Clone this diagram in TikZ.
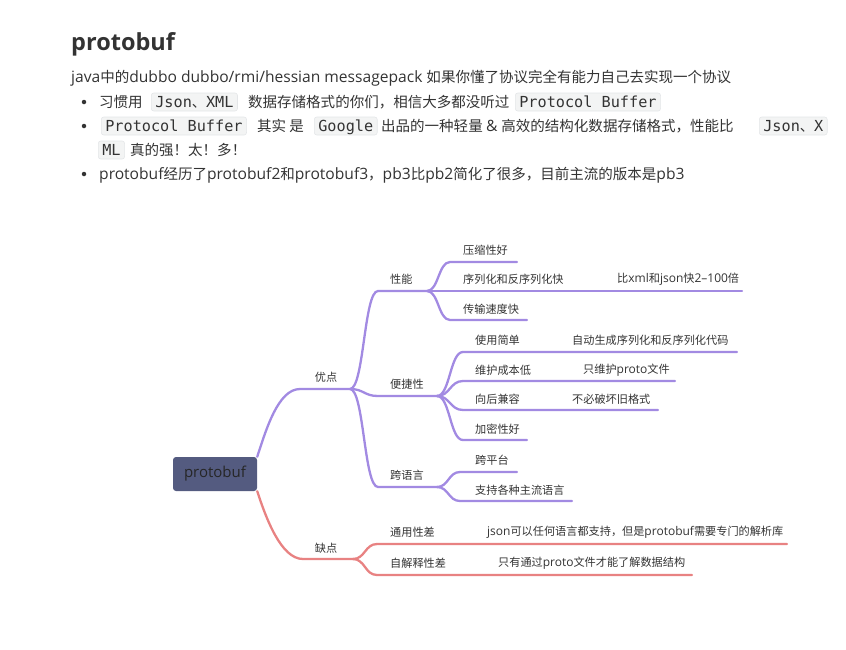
\documentclass[tikz,border=0pt]{standalone}
\usepackage{fontspec}
\setmainfont{Open Sans}
\newfontfamily\codefont{DejaVu Sans Mono}
\newfontfamily\cjk[Scale=0.93]{Noto Sans CJK SC}
\newfontfamily\titlefont{Open Sans}
% switch to the CJK face for Han characters and CJK punctuation
\XeTeXinterchartokenstate=1
\newXeTeXintercharclass\cjkclass
\newcount\cc
\def\markrange#1#2{\cc=#1 \loop \XeTeXcharclass\cc=\cjkclass \ifnum\cc<#2 \advance\cc 1 \repeat}
\markrange{"3000}{"303F}
\markrange{"4E00}{"9FFF}
\markrange{"FF00}{"FFEF}
\XeTeXinterchartoks 0 \cjkclass = {\cjk}
\XeTeXinterchartoks 4095 \cjkclass = {\cjk}
\XeTeXinterchartoks \cjkclass 0 = {\rmfamily}
\XeTeXinterchartoks 4095 0 = {\rmfamily}
\newcommand\nointer{\XeTeXinterchartokenstate=0\relax}
\usetikzlibrary{calc}
\definecolor{ink}{HTML}{333333}
\definecolor{codebg}{HTML}{F3F4F4}
\definecolor{codeline}{HTML}{E4E6E8}
\definecolor{pro}{HTML}{A28AE2}
\definecolor{con}{HTML}{E88282}
\definecolor{rootfill}{HTML}{545B80}
\begin{document}
\begin{tikzpicture}[x=1pt,y=-1pt,
  body/.style={anchor=base west, inner sep=0pt, text=ink, font=\fontsize{15.6}{18}\selectfont},
  code/.style={anchor=base west, inner xsep=4pt, inner ysep=3pt, text height=11pt, text depth=1pt,
    fill=codebg, draw=codeline, line width=0.6pt, rounded corners=2.5pt, text=ink,
    font=\nointer\codefont\fontsize{15.2}{17}\selectfont},
  dot/.style={circle, fill=ink, inner sep=0pt, minimum size=4.5pt},
  lbl/.style={anchor=west, inner sep=0pt, text=ink, font=\fontsize{12}{14}\selectfont},
  sbr/.style={to path={let \p1=(\tikztostart), \p2=(\tikztotarget) in
    .. controls ({0.5*(\x1+\x2)},\y1) and ({0.5*(\x1+\x2)},\y2) .. (\tikztotarget)}},
  wire/.style={line width=2.3pt, line cap=round},
]
\useasboundingbox (0,0) rectangle (846,649);

% ---------- text block ----------
\node[anchor=base west, inner sep=0pt, text=ink,
  font=\nointer\titlefont\bfseries\fontsize{23.5}{28}\selectfont] (title) at (71,50) {protobuf};
\node[body] (intro) at (71,82) {java中的dubbo dubbo/rmi/hessian messagepack 如果你懂了协议完全有能力自己去实现一个协议};

\node[dot] (b1) at (84,102) {};
\node[body] (l1a) at (99,107) {习惯用};
\node[code] (l1b) at (151,107) {Json{\cjk 、}XML};
\node[body] (l1c) at (248,107) {数据存储格式的你们，相信大多都没听过};
\node[code] (l1d) at (515,107) {Protocol Buffer};

\node[dot] (b2) at (84,126) {};
\node[code] (l2a) at (101,131) {Protocol Buffer};
\node[body] (l2b) at (257,131) {其实 是};
\node[code] (l2c) at (314,131) {Google};
\node[body] (l2d) at (381,131) {出品的一种轻量 \& 高效的结构化数据存储格式，性能比};
\node[code] (l2e) at (759,131) {Json{\cjk 、}X};
\node[code] (l3a) at (98,155) {ML};
\node[body] (l3b) at (130,155) {真的强！太！多！};

\node[dot] (b3) at (84,174) {};
\node[body] (l4) at (99,179) {protobuf经历了protobuf2和protobuf3，pb3比pb2简化了很多，目前主流的版本是pb3};

% ---------- mind map ----------
\node[fill=rootfill, rounded corners=3pt, minimum width=84pt, minimum height=34pt, inner sep=0pt,
  text=black!85, font=\fontsize{15}{18}\selectfont] (root) at (215,474) {protobuf};

% branch points
\coordinate (proA) at (300,389);  \coordinate (proB) at (350,389);
\coordinate (conA) at (303,559);  \coordinate (conB) at (353,559);
\coordinate (perfA) at (378,291); \coordinate (perfB) at (427,291);
\coordinate (easeA) at (378,396); \coordinate (easeB) at (437,396);
\coordinate (langA) at (378,487); \coordinate (langB) at (437,487);

% first level
\draw[pro, wire] (root.north east) .. controls (266,430) and (278,389) .. (proA) -- (proB);
\draw[con, wire] (root.south east) .. controls (266,518) and (281,559) .. (conA) -- (conB);
\node[lbl, anchor=center] (pros) at (326,377) {优点};
\node[lbl, anchor=center] (cons) at (326,548) {缺点};

% advantages
\draw[pro, wire] (proB) to[sbr] (perfA) -- (perfB);
\draw[pro, wire] (proB) to[sbr] (easeA) -- (easeB);
\draw[pro, wire] (proB) to[sbr] (langA) -- (langB);
\node[lbl] (perf) at (390,279) {性能};
\node[lbl] (ease) at (390,384) {便捷性};
\node[lbl] (lang) at (390,475) {跨语言};

% performance
\coordinate (p1) at (450,262); \coordinate (p1e) at (517,262);
\coordinate (p2e) at (742,291);
\coordinate (p3) at (450,320); \coordinate (p3e) at (527,320);
\draw[pro, wire] (perfB) to[sbr] (p1) -- (p1e);
\draw[pro, wire] (perfB) -- (p2e);
\draw[pro, wire] (perfB) to[sbr] (p3) -- (p3e);
\node[lbl] (p1t) at (463,250) {压缩性好};
\node[lbl] (p2t) at (463,279) {序列化和反序列化快};
\node[lbl] (p2n) at (617,279) {比xml和json快2–100倍};
\node[lbl] (p3t) at (463,309) {传输速度快};

% convenience
\coordinate (e1) at (463,352); \coordinate (e1e) at (737,352);
\coordinate (e2) at (463,381); \coordinate (e2e) at (675,381);
\coordinate (e3) at (463,410); \coordinate (e3e) at (658,410);
\coordinate (e4) at (463,440); \coordinate (e4e) at (527,440);
\draw[pro, wire] (easeB) to[sbr] (e1) -- (e1e);
\draw[pro, wire] (easeB) to[sbr] (e2) -- (e2e);
\draw[pro, wire] (easeB) to[sbr] (e3) -- (e3e);
\draw[pro, wire] (easeB) to[sbr] (e4) -- (e4e);
\node[lbl] (e1t) at (475,340) {使用简单};
\node[lbl] (e1n) at (572,340) {自动生成序列化和反序列化代码};
\node[lbl] (e2t) at (475,370) {维护成本低};
\node[lbl] (e2n) at (583,370) {只维护proto文件};
\node[lbl] (e3t) at (475,399) {向后兼容};
\node[lbl] (e3n) at (572,399) {不必破坏旧格式};
\node[lbl] (e4t) at (475,429) {加密性好};

% cross-language
\coordinate (g1) at (460,472); \coordinate (g1e) at (517,472);
\coordinate (g2) at (460,501); \coordinate (g2e) at (572,501);
\draw[pro, wire] (langB) to[sbr] (g1) -- (g1e);
\draw[pro, wire] (langB) to[sbr] (g2) -- (g2e);
\node[lbl] (g1t) at (475,460) {跨平台};
\node[lbl] (g2t) at (475,490) {支持各种主流语言};

% disadvantages
\coordinate (c1) at (377,544); \coordinate (c1e) at (787,544);
\coordinate (c2) at (377,575); \coordinate (c2e) at (692,575);
\draw[con, wire] (conB) to[sbr] (c1) -- (c1e);
\draw[con, wire] (conB) to[sbr] (c2) -- (c2e);
\node[lbl] (c1t) at (390,532) {通用性差};
\node[lbl] (c1n) at (487,532) {json可以任何语言都支持，但是protobuf需要专门的解析库};
\node[lbl] (c2t) at (390,563) {自解释性差};
\node[lbl] (c2n) at (498,563) {只有通过proto文件才能了解数据结构};
\end{tikzpicture}
\end{document}
